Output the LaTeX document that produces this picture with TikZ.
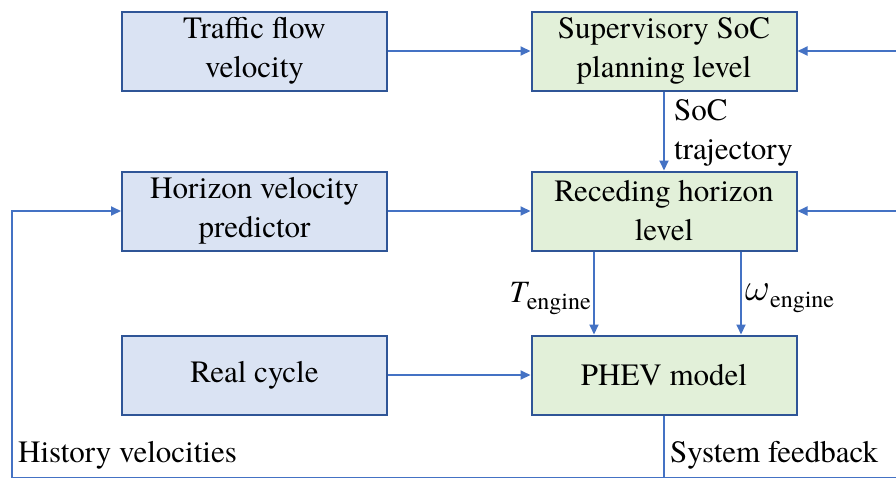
\documentclass[tikz,border=0pt]{standalone}
\usepackage{fontspec}
\setmainfont{texgyretermes}[Extension=.otf, UprightFont=*-regular, ItalicFont=*-italic, BoldFont=*-bold]
\newfontfamily\tnr{texgyretermes}[Extension=.otf, UprightFont=*-regular, ItalicFont=*-italic, BoldFont=*-bold]
\usetikzlibrary{arrows.meta,calc}
\definecolor{linkblue}{HTML}{4472C4}
\definecolor{edgeblue}{HTML}{2F5597}
\definecolor{inblue}{HTML}{DAE3F3}
\definecolor{ingreen}{HTML}{E2F0D9}
% symbol with a lowered, smaller upright subscript
\newcommand{\sub}[2]{#1\raisebox{-7pt}{\fontsize{24}{26}\selectfont\upshape #2}}
\tikzset{
  bigtext/.style={font=\tnr\fontsize{31}{39}\selectfont},
  blk/.style={draw=edgeblue, line width=2pt, minimum width=265pt, minimum height=79pt,
    align=center, inner sep=0pt, bigtext},
  inbox/.style={blk, fill=inblue},
  ctrlbox/.style={blk, fill=ingreen},
  arr/.style={draw=linkblue, line width=2pt, -{Triangle[length=10pt,width=9pt]}},
  wire/.style={draw=linkblue, line width=2pt},
  lbl/.style={bigtext, inner sep=0pt},
}
\begin{document}
\begin{tikzpicture}[x=1pt,y=-1pt]
\useasboundingbox (0,0) rectangle (896,477);
\clip (0,0) rectangle (896,477);
% input blocks
\node[inbox] (tfv) at (254.5,51) {Traffic flow\\velocity};
\node[inbox] (hvp) at (254.5,211) {Horizon velocity\\predictor};
\node[inbox] (rc) at (254.5,375) {Real cycle};
% control blocks
\node[ctrlbox] (svl) at (664,51) {Supervisory SoC\\planning level};
\node[ctrlbox] (rhl) at (664,211) {Receding horizon\\level};
\node[ctrlbox] (phev) at (664,375) {PHEV model};
% feedback ends
\coordinate (fbA) at (905,51);
\coordinate (fbB) at (905,211);
\coordinate (hl) at (12,477.5);
\coordinate (br) at (905,477.5);
% connectors
\draw[arr] (tfv) -- (svl);
\draw[arr] (hvp) -- (rhl);
\draw[arr] (rc) -- (phev);
\draw[arr] (fbA) -- (svl);
\draw[arr] (fbB) -- (rhl);
\draw[arr] (svl) -- (rhl);
\draw[arr] ([xshift=-70pt]rhl.south) -- ([xshift=-70pt]phev.north);
\draw[arr] ([xshift=77pt]rhl.south) -- ([xshift=77pt]phev.north);
\draw[wire] (phev.south) -- (phev.south |- hl);
\draw[wire] (hl) -- (br);
\draw[arr] (hl) |- (hvp.west);
% labels
\node[lbl, anchor=north west, align=left] (soc) at (674,99) {SoC\\trajectory};
\node[lbl, anchor=east] (tl) at (591,298) {\sub{{\itshape T}}{engine}};
\node[lbl, anchor=west] (wl) at (745,298) {\sub{\scalebox{1.55}{$\omega$}}{engine}};
\node[lbl, anchor=west] (hist) at (18,455) {History velocities};
\node[lbl, anchor=west] (sysfb) at (670,455) {System feedback};
\end{tikzpicture}
\end{document}
